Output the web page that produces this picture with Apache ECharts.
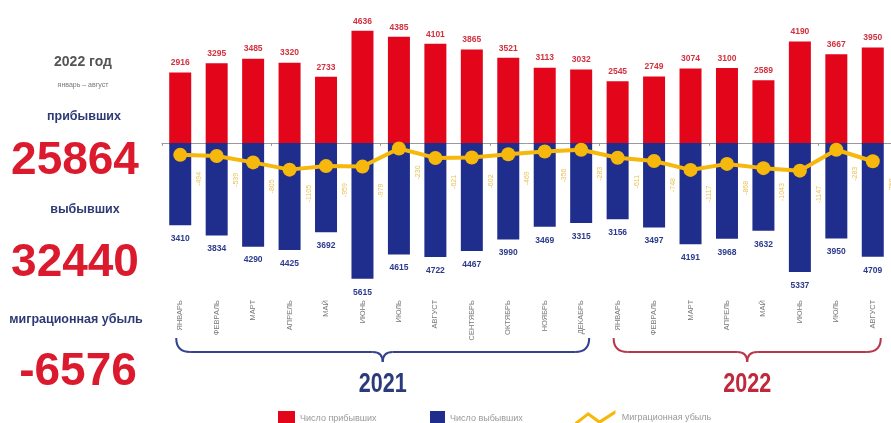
<!DOCTYPE html>
<html>
<head>
<meta charset="utf-8">
<script src="https://cdn.jsdelivr.net/npm/echarts@6/dist/echarts.min.js"></script>
<style>html,body{margin:0;padding:0;background:#fff;}#c{width:891px;height:423px;}</style>
</head>
<body>
<div id="c"></div>
<script>
var months = ['ЯНВАРЬ','ФЕВРАЛЬ','МАРТ','АПРЕЛЬ','МАЙ','ИЮНЬ','ИЮЛЬ','АВГУСТ','СЕНТЯБРЬ','ОКТЯБРЬ','НОЯБРЬ','ДЕКАБРЬ',
              'ЯНВАРЬ','ФЕВРАЛЬ','МАРТ','АПРЕЛЬ','МАЙ','ИЮНЬ','ИЮЛЬ','АВГУСТ'];
var arrivals = [2916,3295,3485,3320,2733,4636,4385,4101,3865,3521,3113,3032,
                2545,2749,3074,3100,2589,4190,3667,3950];
var departures = [3410,3834,4290,4425,3692,5615,4615,4722,4467,3990,3469,3315,
                  3156,3497,4191,3968,3632,5337,3950,4709];
var netMigration = [-494,-539,-805,-1105,-959,-979,-230,-621,-602,-469,-356,-283,
                    -611,-748,-1117,-868,-1043,-1147,-283,-759];
var years = ['2021','2022'];
var yearCounts = [12, 8];
var summary = {year:'2022 год', period:'январь – август', arrLabel:'прибывших', arr:'25864',
               depLabel:'выбывших', dep:'32440', netLabel:'миграционная убыль', net:'-6576'};

var RED = '#e3061b', BLUE = '#1f2e8c', YEL = '#f6b80c';
var FONT = 'Liberation Sans, Arial, sans-serif';
var chart = echarts.init(document.getElementById('c'));

var option = {
  backgroundColor: '#fff',
  animation: false,
  grid: {left: 162, top: 22, width: 732, height: 266},
  xAxis: [{
    type: 'category', data: months, position: 'bottom',
    axisLine: {show: false, onZero: false}, axisTick: {show: false},
    axisLabel: {rotate: 90, fontSize: 7.5, color: '#7a7a7a', margin: 12, fontFamily: FONT, interval: 0}
  }, {
    type: 'category', data: months, position: 'bottom',
    axisLine: {show: true, onZero: true, lineStyle: {color: '#9a9a9a', width: 1}},
    axisTick: {show: true, length: 3, lineStyle: {color: '#9a9a9a'}},
    axisLabel: {show: false}
  }],
  yAxis: {type: 'value', min: -6000, max: 5000, show: false, splitLine: {show: false}},
  legend: [
    {data: ['Число прибывших'], left: 273, top: 406, itemWidth: 17, itemHeight: 16, icon: 'rect',
     textStyle: {fontSize: 9, color: '#999999', fontFamily: FONT}},
    {data: ['Число выбывших'], left: 425, top: 406, itemWidth: 15, itemHeight: 16, icon: 'rect',
     textStyle: {fontSize: 9, color: '#999999', fontFamily: FONT}},
    {data: [{name: 'Миграционная убыль', icon: 'path://M0,13 L14,2 L26,11 L43,0 L43,4 L26,15 L14,6 L0,17 Z'}],
     left: 570, top: 405, itemWidth: 43, itemHeight: 16,
     textStyle: {fontSize: 9, color: '#999999', fontFamily: FONT}}
  ],
  series: [{
    name: 'Число прибывших', type: 'bar', data: arrivals, barWidth: 22, barGap: '-100%',
    itemStyle: {color: RED},
    label: {show: true, position: 'top', distance: 5, fontSize: 8.5, fontWeight: 'bold', color: '#d2313f', fontFamily: FONT}
  }, {
    name: 'Число выбывших', type: 'bar', barWidth: 22, barGap: '-100%',
    data: departures.map(function (v) { return -v; }),
    itemStyle: {color: BLUE},
    label: {show: true, position: 'bottom', distance: 9, fontSize: 8.5, fontWeight: 'bold', color: '#2c3a8c', fontFamily: FONT,
            formatter: function (p) { return String(-p.value); }}
  }, {
    name: 'Миграционная убыль', type: 'line', data: netMigration, z: 5,
    symbol: 'circle', symbolSize: 14,
    lineStyle: {color: YEL, width: 4}, itemStyle: {color: YEL},
    label: {show: true, position: 'inside', rotate: 90, offset: [-24, 19], fontSize: 7, color: '#e9c257', fontFamily: FONT}
  }]
};
chart.setOption(option);

function txt(x, y, text, size, color, weight, family) {
  return {type: 'text', x: x, y: y, z: 10,
    style: {text: text, fontSize: size, fill: color, fontWeight: weight || 'bold', fontFamily: family || FONT,
            align: 'center', verticalAlign: 'middle'}};
}
var graphics = [
  txt(83, 62, summary.year, 14, '#555555'),
  txt(83, 85, summary.period, 7, '#777777', 'normal'),
  txt(84, 117, summary.arrLabel, 12.5, '#2d3a74'),
  txt(75, 161, summary.arr, 46, '#dc1a2e'),
  txt(85, 210, summary.depLabel, 12.5, '#2d3a74'),
  txt(75, 263, summary.dep, 46, '#dc1a2e'),
  txt(76, 320, summary.netLabel, 12.5, '#2d3a74'),
  txt(78, 372, summary.net, 46, '#dc1a2e')
];

function brace(x1, x2, yTop, yLine, yTip, color) {
  var m = (x1 + x2) / 2;
  var st = {stroke: color, lineWidth: 2, fill: null};
  return [
    {type: 'bezierCurve', z: 10, style: st, shape: {x1: x1, y1: yTop, cpx1: x1, cpy1: yLine, x2: x1 + 14, y2: yLine}},
    {type: 'line', z: 10, style: st, shape: {x1: x1 + 14, y1: yLine, x2: m - 10, y2: yLine}},
    {type: 'bezierCurve', z: 10, style: st, shape: {x1: m - 10, y1: yLine, cpx1: m, cpy1: yLine, x2: m, y2: yTip}},
    {type: 'bezierCurve', z: 10, style: st, shape: {x1: m, y1: yTip, cpx1: m, cpy1: yLine, x2: m + 10, y2: yLine}},
    {type: 'line', z: 10, style: st, shape: {x1: m + 10, y1: yLine, x2: x2 - 14, y2: yLine}},
    {type: 'bezierCurve', z: 10, style: st, shape: {x1: x2 - 14, y1: yLine, cpx1: x2, cpy1: yLine, x2: x2, y2: yTop}}
  ];
}
var start = 0;
var braceColors = ['#34428f', '#b8384a'];
var yearColors = ['#2b3a7a', '#c0283c'];
for (var i = 0; i < years.length; i++) {
  var a = chart.convertToPixel({xAxisIndex: 0}, start);
  var b = chart.convertToPixel({xAxisIndex: 0}, start + yearCounts[i] - 1);
  var x1 = a - 4, x2 = b + 8;
  graphics = graphics.concat(brace(x1, x2, 338, 352, 362, braceColors[i]));
  var yt = txt((x1 + x2) / 2, 385, years[i], 27, yearColors[i], 'bold');
  yt.scaleX = 0.8;
  graphics.push(yt);
  start += yearCounts[i];
}
chart.setOption({graphic: graphics});
</script>
</body>
</html>
